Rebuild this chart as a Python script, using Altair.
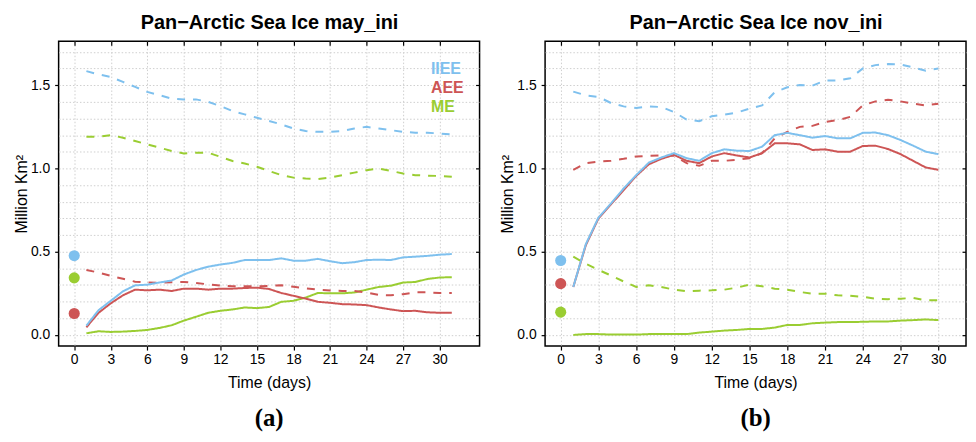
import altair as alt
import pandas as pd

METRICS = ["IIEE", "AEE", "ME"]
COLORS = ["#7EC0EE", "#CD5555", "#9ACD32"]
KINDS = ["forecast", "benchmark"]
Y_DOMAIN = [-0.067, 1.764]
X_TICKS = list(range(0, 31, 3))
Y_GRID = [round(0.1 * k, 1) for k in range(0, 18)]
Y_TICKS = [0.0, 0.5, 1.0, 1.5]

may_days = list(range(1, 32))
may_iiee_fc = [0.056, 0.149, 0.205, 0.262, 0.298, 0.302, 0.315, 0.327, 0.363, 0.390,
               0.410, 0.423, 0.433, 0.450, 0.450, 0.450, 0.460, 0.446, 0.446, 0.457,
               0.443, 0.431, 0.437, 0.450, 0.452, 0.450, 0.466, 0.470, 0.475, 0.482, 0.486]
may_aee_fc = [0.046, 0.133, 0.190, 0.238, 0.272, 0.268, 0.272, 0.264, 0.278, 0.278,
              0.272, 0.278, 0.278, 0.282, 0.284, 0.276, 0.252, 0.235, 0.218, 0.199,
              0.193, 0.185, 0.183, 0.179, 0.165, 0.153, 0.143, 0.145, 0.136, 0.133, 0.133]
may_me_fc = [0.010, 0.022, 0.018, 0.020, 0.024, 0.030, 0.042, 0.058, 0.086, 0.109,
             0.133, 0.145, 0.153, 0.165, 0.161, 0.168, 0.199, 0.205, 0.224, 0.252,
             0.250, 0.250, 0.255, 0.272, 0.288, 0.296, 0.315, 0.318, 0.336, 0.345, 0.347]
may_iiee_bm = [1.585, 1.565, 1.550, 1.520, 1.490, 1.460, 1.440, 1.420, 1.415, 1.415,
               1.400, 1.375, 1.345, 1.325, 1.305, 1.285, 1.265, 1.240, 1.225, 1.220,
               1.220, 1.225, 1.240, 1.250, 1.240, 1.230, 1.220, 1.215, 1.215, 1.210, 1.205]
may_aee_bm = [0.390, 0.375, 0.355, 0.337, 0.320, 0.315, 0.314, 0.316, 0.318, 0.312,
              0.304, 0.296, 0.292, 0.292, 0.292, 0.295, 0.298, 0.290, 0.280, 0.272,
              0.267, 0.264, 0.264, 0.255, 0.240, 0.238, 0.245, 0.256, 0.256, 0.252, 0.252]
may_me_bm = [1.190, 1.190, 1.200, 1.185, 1.165, 1.145, 1.125, 1.105, 1.090, 1.095,
             1.095, 1.070, 1.045, 1.030, 1.010, 0.985, 0.960, 0.945, 0.940, 0.937,
             0.945, 0.960, 0.975, 0.990, 1.000, 0.985, 0.970, 0.960, 0.957, 0.955, 0.950]
may_init = [0.476, 0.129, 0.343]

nov_days = list(range(1, 31))
nov_iiee_fc = [0.288, 0.546, 0.705, 0.790, 0.880, 0.960, 1.035, 1.066, 1.092, 1.062,
               1.046, 1.092, 1.115, 1.107, 1.105, 1.131, 1.200, 1.214, 1.200, 1.185,
               1.195, 1.181, 1.181, 1.214, 1.216, 1.200, 1.171, 1.137, 1.101, 1.086]
nov_aee_fc = [0.288, 0.540, 0.700, 0.785, 0.870, 0.955, 1.025, 1.058, 1.082, 1.046,
              1.032, 1.072, 1.092, 1.078, 1.066, 1.092, 1.151, 1.151, 1.145, 1.111,
              1.115, 1.101, 1.101, 1.135, 1.137, 1.117, 1.086, 1.046, 1.006, 0.992]
nov_me_fc = [0.000, 0.005, 0.005, 0.002, 0.002, 0.002, 0.005, 0.005, 0.005, 0.005,
             0.014, 0.020, 0.026, 0.030, 0.036, 0.036, 0.044, 0.060, 0.060, 0.070,
             0.074, 0.077, 0.077, 0.079, 0.081, 0.081, 0.086, 0.089, 0.093, 0.089]
nov_iiee_bm = [1.462, 1.439, 1.430, 1.393, 1.373, 1.363, 1.373, 1.369, 1.339, 1.294,
               1.284, 1.314, 1.324, 1.336, 1.360, 1.379, 1.458, 1.488, 1.502, 1.498,
               1.528, 1.528, 1.542, 1.601, 1.621, 1.627, 1.625, 1.607, 1.587, 1.601]
nov_aee_bm = [0.992, 1.032, 1.042, 1.046, 1.058, 1.072, 1.076, 1.078, 1.076, 1.032,
              1.016, 1.046, 1.046, 1.052, 1.062, 1.092, 1.181, 1.220, 1.250, 1.256,
              1.280, 1.290, 1.310, 1.379, 1.403, 1.413, 1.403, 1.389, 1.379, 1.389]
nov_me_bm = [0.470, 0.427, 0.391, 0.357, 0.321, 0.288, 0.298, 0.288, 0.272, 0.262,
             0.266, 0.268, 0.272, 0.284, 0.302, 0.292, 0.278, 0.272, 0.258, 0.248,
             0.248, 0.238, 0.236, 0.229, 0.218, 0.215, 0.218, 0.222, 0.208, 0.208]
nov_init = [0.447, 0.308, 0.137]

SANS = "Liberation Sans"
SERIF = "Liberation Serif"
HALF = "abs(datum.value*2 - round(datum.value*2)) < 0.001"


def panel(days, fc, bm, init, title, tag, xdom, legend):
    rows = []
    for m, f_vals, b_vals in zip(METRICS, fc, bm):
        for kind, vals in (("benchmark", b_vals), ("forecast", f_vals)):
            for d, v in zip(days, vals):
                rows.append({"day": d, "value": v, "metric": m, "kind": kind})
    lines_df = pd.DataFrame(rows)
    init_df = pd.DataFrame({"day": [0] * 3, "value": init, "metric": METRICS})

    xs = alt.Scale(domain=xdom, nice=False, zero=False)
    ys = alt.Scale(domain=Y_DOMAIN, nice=False, zero=False)
    color = alt.Color("metric:N", scale=alt.Scale(domain=METRICS, range=COLORS), legend=None)
    dash = alt.StrokeDash("kind:N", scale=alt.Scale(domain=KINDS, range=[[1, 0], [8, 8]]),
                          legend=None)

    x_bottom = alt.Axis(values=X_TICKS, title="Time (days)", grid=True, gridColor="#cfcfcf",
                        gridDash=[1.5, 2], gridWidth=1, domain=False, tickSize=4,
                        tickColor="black", tickWidth=1.2, labelPadding=3, labelFontSize=14,
                        labelFont=SANS, labelColor="black", titleFont=SANS, titleFontSize=16,
                        titleFontWeight="normal", titleColor="black", titlePadding=8,
                        labelFlush=False)
    y_left = alt.Axis(values=Y_GRID, title="Million Km²", grid=True, gridColor="#cfcfcf",
                      gridDash=[1.5, 2], gridWidth=1, domain=False, tickSize=4,
                      tickColor="black", tickWidth=1.2,
                      tickOpacity={"condition": {"test": HALF, "value": 1}, "value": 0},
                      labelExpr=HALF + " ? format(datum.value, '.1f') : ''",
                      labelOverlap=False, labelFlush=False, labelPadding=5,
                      labelFontSize=14, labelFont=SANS, labelColor="black",
                      titleFont=SANS, titleFontSize=16, titleFontWeight="normal",
                      titleColor="black", titlePadding=1)
    x_top = alt.Axis(orient="top", values=X_TICKS, title=title, labels=False, grid=False,
                     domain=False, tickSize=4, offset=-4, tickColor="black", tickWidth=1.2,
                     titleFont=SANS, titleFontSize=20, titleFontWeight="bold",
                     titleColor="black", titlePadding=8)
    y_right = alt.Axis(orient="right", values=Y_TICKS, title=None, labels=False, grid=False,
                       domain=False, tickSize=4, offset=-4, tickColor="black", tickWidth=1.2)

    frame_main = alt.Chart(init_df).mark_point(opacity=0).encode(
        x=alt.X("day:Q", scale=xs, axis=x_bottom),
        y=alt.Y("value:Q", scale=ys, axis=y_left),
    )
    frame_side = alt.Chart(init_df).mark_point(opacity=0).encode(
        x=alt.X("day:Q", scale=xs, axis=x_top),
        y=alt.Y("value:Q", scale=ys, axis=y_right),
    )
    layers = [frame_main, frame_side]
    for m in reversed(METRICS):
        sub = lines_df[lines_df["metric"] == m]
        layers.append(
            alt.Chart(sub).mark_line(strokeWidth=2, clip=True).encode(
                x=alt.X("day:Q", scale=xs, axis=None),
                y=alt.Y("value:Q", scale=ys, axis=None),
                color=color,
                strokeDash=dash,
            )
        )
    layers.append(
        alt.Chart(init_df).mark_circle(size=125, opacity=1).encode(
            x=alt.X("day:Q", scale=xs, axis=None),
            y=alt.Y("value:Q", scale=ys, axis=None),
            color=color,
        )
    )
    if legend:
        for i, (m, c) in enumerate(zip(METRICS, COLORS)):
            layers.append(
                alt.Chart(pd.DataFrame({"label": [m]})).mark_text(
                    align="left", baseline="middle", fontSize=16, fontWeight="bold",
                    font=SANS, color=c, dy=19.5 * i
                ).encode(text="label:N", x=alt.value(375), y=alt.value(27.5))
            )
    return alt.layer(*layers).resolve_axis(x="independent", y="independent").properties(
        width=424, height=307,
        title=alt.TitleParams(tag, orient="bottom", font=SERIF, fontSize=25,
                              fontWeight="bold", color="black", offset=15),
    )


pa = panel(may_days, [may_iiee_fc, may_aee_fc, may_me_fc],
           [may_iiee_bm, may_aee_bm, may_me_bm], may_init,
           "Pan\u2212Arctic Sea Ice may_ini", "(a)", [-1.28, 33.28], True)
pb = panel(nov_days, [nov_iiee_fc, nov_aee_fc, nov_me_fc],
           [nov_iiee_bm, nov_aee_bm, nov_me_bm], nov_init,
           "Pan\u2212Arctic Sea Ice nov_ini", "(b)", [-1.24, 32.2], False)

chart = alt.hconcat(pa, pb, spacing=17).properties(
    padding={"left": 4, "top": 2, "right": 0, "bottom": 0},
).configure_view(stroke="black", strokeWidth=1.5)

chart.save("out.html", embed_options={"renderer": "svg", "actions": False})
